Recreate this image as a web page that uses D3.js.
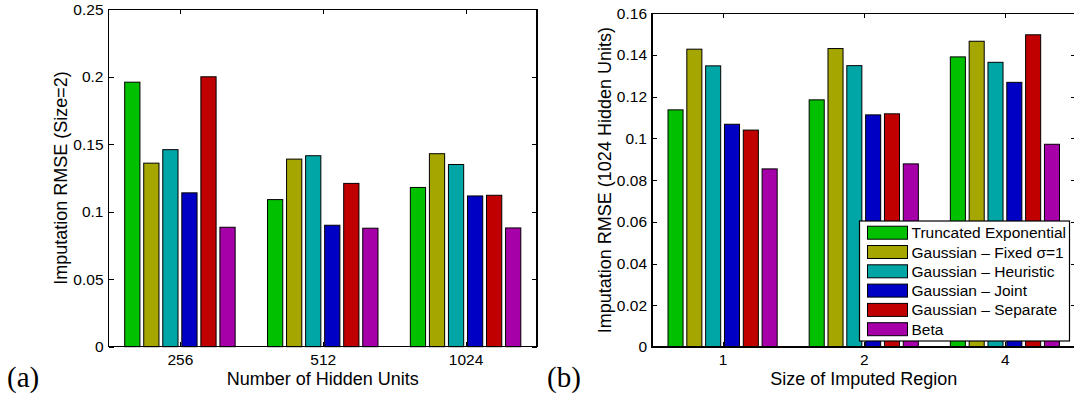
<!DOCTYPE html>
<html>
<head>
<meta charset="utf-8">
<script src="https://cdn.jsdelivr.net/npm/d3@7"></script>
<style>
body { margin: 0; background: #fff; }
svg { display: block; font-family: "Liberation Sans", Arial, sans-serif; }
</style>
</head>
<body>
<svg id="chart" width="1074" height="403"></svg>
<script>
var seriesNames = [
    'Truncated Exponential',
    'Gaussian \u2013 Fixed \u03c3=1',
    'Gaussian \u2013 Heuristic',
    'Gaussian \u2013 Joint',
    'Gaussian \u2013 Separate',
    'Beta'
];

// (a) x categories and one row per series
var hiddenUnits = ['256', '512', '1024'];
var valuesA = [
    [0.196, 0.109, 0.118],
    [0.136, 0.139, 0.143],
    [0.146, 0.1415, 0.135],
    [0.114, 0.090, 0.1117],
    [0.200, 0.121, 0.1122],
    [0.0885, 0.0878, 0.088]
];
var ticksA = [0, 0.05, 0.1, 0.15, 0.2, 0.25];

// (b)
var regionSizes = ['1', '2', '4'];
var valuesB = [
    [0.1137, 0.1185, 0.1391],
    [0.1428, 0.1431, 0.1466],
    [0.1348, 0.1349, 0.1365],
    [0.1068, 0.1113, 0.1269],
    [0.104, 0.1118, 0.1497],
    [0.0854, 0.0878, 0.0972]
];
var ticksB = [0, 0.02, 0.04, 0.06, 0.08, 0.1, 0.12, 0.14, 0.16];

var colors = ['#00c000', '#a6a600', '#00a6a6', '#0000c4', '#c00000', '#a600a8'];

var svg = d3.select('#chart');

function fmt(v) {
    return String(+v.toFixed(2));
}

function drawPanel(opt) {
    var g = svg.append('g');
    var x0 = d3.scaleBand()
        .domain(opt.categories)
        .range([opt.left, opt.right])
        .paddingInner(0.2)
        .paddingOuter(0.1);
    var x1 = d3.scaleBand()
        .domain(d3.range(seriesNames.length))
        .range([0, x0.bandwidth()])
        .paddingInner(0.2)
        .paddingOuter(0.1);
    var y = d3.scaleLinear()
        .domain([0, opt.ticks[opt.ticks.length - 1]])
        .range([opt.bottom, opt.top]);

    // tick positions follow category centres, like matlab's xtick
    var xc = d3.scalePoint()
        .domain(opt.categories)
        .range([x0(opt.categories[0]) + x0.bandwidth() / 2,
                x0(opt.categories[opt.categories.length - 1]) + x0.bandwidth() / 2]);

    var axes = [
        d3.axisLeft(y).tickValues(opt.ticks).tickFormat(fmt),
        d3.axisRight(y).tickValues(opt.ticks).tickFormat(''),
        d3.axisBottom(xc),
        d3.axisTop(xc).tickFormat('')
    ];
    var trans = [
        [opt.left, 0], [opt.right, 0], [0, opt.bottom], [0, opt.top]
    ];
    for (var i = 0; i < axes.length; i++) {
        var a = g.append('g')
            .attr('transform', 'translate(' + trans[i][0] + ',' + trans[i][1] + ')')
            .call(axes[i].tickSize(-5).tickSizeOuter(0).tickPadding(i == 2 ? 7 : 5));
        a.select('.domain').remove();
        a.selectAll('.tick line').attr('stroke', '#000').attr('shape-rendering', 'crispEdges');
        a.selectAll('.tick text')
            .attr('fill', '#000')
            .attr('font-size', 15.5)
            .attr('font-family', '"Liberation Sans", Arial, sans-serif');
    }

    // bars
    for (var s = 0; s < seriesNames.length; s++) {
        g.append('g').selectAll('rect')
            .data(opt.values[s])
            .enter().append('rect')
            .attr('x', function (d, k) { return x0(opt.categories[k]) + x1(s); })
            .attr('y', function (d) { return y(d); })
            .attr('width', x1.bandwidth())
            .attr('height', function (d) { return y(0) - y(d); })
            .attr('fill', colors[s])
            .attr('stroke', '#000')
            .attr('stroke-width', 1);
    }

    // box
    g.append('rect')
        .attr('x', opt.left)
        .attr('y', opt.top)
        .attr('width', opt.right - opt.left)
        .attr('height', opt.bottom - opt.top)
        .attr('fill', 'none')
        .attr('stroke', '#000')
        .attr('stroke-width', 1.2)
        .attr('shape-rendering', 'crispEdges');

    g.append('text')
        .attr('x', (opt.left + opt.right) / 2)
        .attr('y', 385)
        .attr('text-anchor', 'middle')
        .attr('font-size', 18)
        .text(opt.xLabel);

    g.append('text')
        .attr('transform', 'translate(' + opt.yLabelX + ',' + (opt.top + opt.bottom) / 2 + ') rotate(-90)')
        .attr('text-anchor', 'middle')
        .attr('font-size', 18)
        .text(opt.yLabel);

    g.append('text')
        .attr('x', opt.tagX)
        .attr('y', 387)
        .attr('font-family', '"Liberation Serif", "Times New Roman", serif')
        .attr('font-size', 29)
        .text(opt.tag);
}

function drawLegend(x, y, w, h) {
    var lg = svg.append('g').attr('transform', 'translate(' + x + ',' + y + ')');
    lg.append('rect')
        .attr('width', w)
        .attr('height', h)
        .attr('fill', '#fff')
        .attr('stroke', '#000')
        .attr('stroke-width', 1.2);
    var rowH = 19.3;
    for (var i = 0; i < seriesNames.length; i++) {
        var cy = 11.7 + rowH * i;
        lg.append('rect')
            .attr('x', 8)
            .attr('y', cy - 6.5)
            .attr('width', 40)
            .attr('height', 13)
            .attr('fill', colors[i])
            .attr('stroke', '#000');
        lg.append('text')
            .attr('x', 52)
            .attr('y', cy)
            .attr('dominant-baseline', 'central')
            .attr('font-size', 15.5)
            .text(seriesNames[i]);
    }
}

drawPanel({
    categories: hiddenUnits,
    values: valuesA,
    ticks: ticksA,
    left: 108.5, right: 537, top: 9.3, bottom: 346.7,
    xLabel: 'Number of Hidden Units',
    yLabel: 'Imputation RMSE (Size=2)',
    yLabelX: 67,
    tag: '(a)', tagX: 7
});

drawPanel({
    categories: regionSizes,
    values: valuesB,
    ticks: ticksB,
    left: 652, right: 1075.5, top: 13.3, bottom: 347,
    xLabel: 'Size of Imputed Region',
    yLabel: 'Imputation RMSE (1024 Hidden Units)',
    yLabelX: 611,
    tag: '(b)', tagX: 547
});

drawLegend(859.5, 221, 210, 120);
</script>
</body>
</html>
